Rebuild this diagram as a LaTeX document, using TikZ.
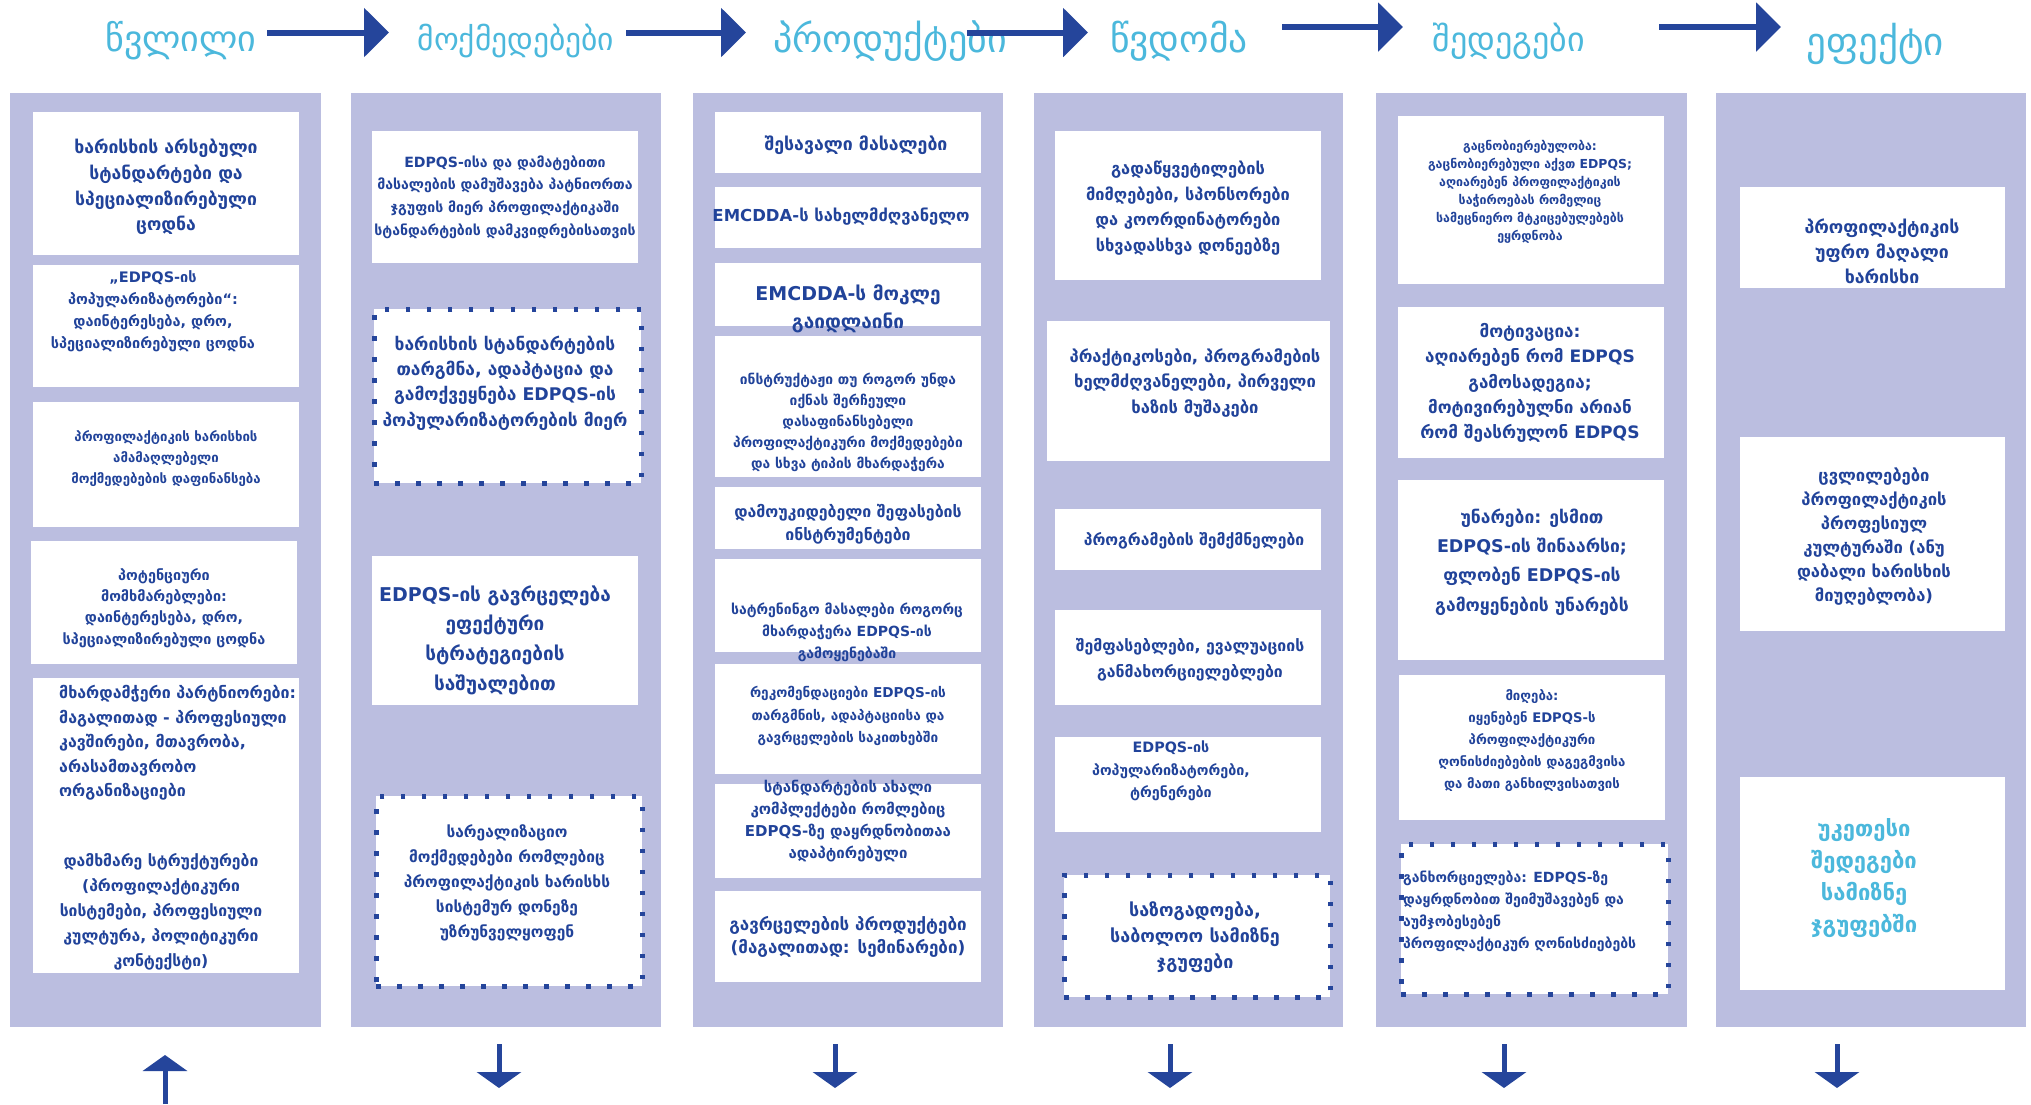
\documentclass[tikz,border=0pt]{standalone}
\usepackage{fontspec}
\setmainfont{DejaVu Sans}
\usetikzlibrary{arrows.meta}
\definecolor{colbg}{HTML}{BBBEE0}
\definecolor{txtblue}{HTML}{21439A}
\definecolor{hdrblue}{HTML}{4BB8DC}
\definecolor{arrblue}{HTML}{25459B}
\newcommand\fsz[2]{\fontsize{#1}{#2}\selectfont\bfseries}
\newcommand\hsz[1]{\fontsize{#1}{#1}\selectfont}
\tikzset{
  colbar/.style={fill=colbg, draw=none, inner sep=0pt, anchor=north west},
  wbox/.style={fill=white, draw=none, inner sep=0pt, anchor=north west},
  dotbox/.style={wbox, draw=arrblue, line width=4.5pt, dash pattern=on 4.5pt off 16.5pt},
  tx/.style={text=txtblue, align=center, inner sep=0pt},
  txl/.style={text=txtblue, align=left, inner sep=0pt, anchor=west},
  hdr/.style={text=hdrblue, inner sep=0pt, font=\hsz{#1}},
  harrow/.style={draw=arrblue, line width=6pt, -{Triangle[length=25pt,width=48pt]}},
  varrow/.style={draw=arrblue, line width=5pt, -{Triangle[length=16pt,width=44pt]}},
}
\newcommand\colbox[5]{\node[colbar, minimum width={#4-#2}, minimum height={#5-#3}] (#1) at (#2,#3) {};}
\newcommand\wb[6][wbox]{\node[#1, minimum width={#5-#3}, minimum height={#6-#4}] (#2) at (#3,#4) {};}
\begin{document}
\begin{tikzpicture}[x=1pt,y=-1pt]
\useasboundingbox (0,0) rectangle (2031,1104);
\fill[white] (0,0) rectangle (2031,1104);
% columns
\colbox{col1}{10}{93}{321}{1027}
\colbox{col2}{351}{93}{661}{1027}
\colbox{col3}{693}{93}{1003}{1027}
\colbox{col4}{1034}{93}{1343}{1027}
\colbox{col5}{1376}{93}{1687}{1027}
\colbox{col6}{1716}{93}{2026}{1027}
% headers
\node[hdr=36] (h1) at (181,41) {წვლილი};
\node[hdr=31.5] (h2) at (516,41) {მოქმედებები};
\node[hdr=38] (h3) at (890,41) {პროდუქტები};
\node[hdr=37.5] (h4) at (1179,41) {წვდომა};
\node[hdr=34] (h5) at (1509,41) {შედეგები};
\node[hdr=39] (h6) at (1875,44) {ეფექტი};
\coordinate (a1s) at (267,32.5); \coordinate (a1e) at (389,32.5);
\coordinate (a2s) at (626,32.5); \coordinate (a2e) at (746,32.5);
\coordinate (a3s) at (967,32.5); \coordinate (a3e) at (1088,32.5);
\coordinate (a4s) at (1282,27); \coordinate (a4e) at (1403,27);
\coordinate (a5s) at (1659,27); \coordinate (a5e) at (1781,27);
\draw[harrow] (a1s) -- (a1e);
\draw[harrow] (a2s) -- (a2e);
\draw[harrow] (a3s) -- (a3e);
\draw[harrow] (a4s) -- (a4e);
\draw[harrow] (a5s) -- (a5e);
% column 1
\wb{b11}{33}{112}{299}{255}
\wb{b12}{33}{265}{299}{387}
\wb{b13}{33}{402}{299}{527}
\wb{b14}{31}{541}{297}{664}
\wb{b15}{33}{678}{299}{973}
\node[tx, font=\fsz{17.6}{25.6}] (t11) at (166,187) {ხარისხის არსებული\\სტანდარტები და\\სპეციალიზირებული\\ცოდნა};
\node[tx, font=\fsz{14.5}{22}] (t12) at (153,311) {„EDPQS-ის\\პოპულარიზატორები“:\\დაინტერესება, დრო,\\სპეციალიზირებული ცოდნა};
\node[tx, font=\fsz{13.2}{21}] (t13) at (166,459) {პროფილაქტიკის ხარისხის\\ამამაღლებელი\\მოქმედებების დაფინანსება};
\node[tx, font=\fsz{14.4}{21.3}] (t14) at (164,608) {პოტენციური\\მომხმარებლები:\\დაინტერესება, დრო,\\სპეციალიზირებული ცოდნა};
\node[txl, font=\fsz{16}{24.5}] (t15a) at (59,743) {მხარდამჭერი პარტნიორები:\\მაგალითად - პროფესიული\\კავშირები, მთავრობა,\\არასამთავრობო\\ორგანიზაციები};
\node[tx, font=\fsz{15.7}{25}] (t15b) at (161,912) {დამხმარე სტრუქტურები\\(პროფილაქტიკური\\სისტემები, პროფესიული\\კულტურა, პოლიტიკური\\კონტექსტი)};
% column 2
\wb{b21}{372}{131}{638}{263}
\wb[dotbox]{b22}{372}{307}{639}{481}
\wb{b23}{372}{556}{638}{705}
\wb[dotbox]{b24}{374}{794}{640}{984}
\node[tx, font=\fsz{14.1}{22.6}] (t21) at (505,197) {EDPQS-ისა და დამატებითი\\მასალების დამუშავება პატნიორთა\\ჯგუფის მიერ პროფილაქტიკაში\\სტანდარტების დამკვიდრებისათვის};
\node[tx, font=\fsz{17.4}{25.3}] (t22) at (505,383) {ხარისხის სტანდარტების\\თარგმნა, ადაპტაცია და\\გამოქვეყნება EDPQS-ის\\პოპულარიზატორების მიერ};
\node[tx, font=\fsz{19}{29.7}] (t23) at (495,640) {EDPQS-ის გავრცელება\\ეფექტური\\სტრატეგიების\\საშუალებით};
\node[tx, font=\fsz{15.5}{25}] (t24) at (507,883) {სარეალიზაციო\\მოქმედებები რომლებიც\\პროფილაქტიკის ხარისხს\\სისტემურ დონეზე\\უზრუნველყოფენ};
% column 3
\wb{b31}{715}{112}{981}{173}
\wb{b32}{715}{187}{981}{248}
\wb{b33}{715}{263}{981}{326}
\wb{b34}{715}{336}{981}{477}
\wb{b35}{715}{487}{981}{549}
\wb{b36}{715}{559}{981}{652}
\wb{b37}{715}{664}{981}{774}
\wb{b38}{715}{784}{981}{878}
\wb{b39}{715}{891}{981}{982}
\node[tx, font=\fsz{17.7}{22}] (t31) at (856,145) {შესავალი მასალები};
\node[tx, font=\fsz{16.5}{22}] (t32) at (841,217) {EMCDDA-ს სახელმძღვანელო};
\node[tx, font=\fsz{19}{28}] (t33) at (848,309) {EMCDDA-ს მოკლე\\გაიდლაინი};
\node[tx, font=\fsz{13.8}{21}] (t34) at (848,422) {ინსტრუქტაჟი თუ როგორ უნდა\\იქნას შერჩეული\\დასაფინანსებელი\\პროფილაქტიკური მოქმედებები\\და სხვა ტიპის მხარდაჭერა};
\node[tx, font=\fsz{15.9}{23}] (t35) at (848,524) {დამოუკიდებელი შეფასების\\ინსტრუმენტები};
\node[tx, font=\fsz{14}{22}] (t36) at (847,632) {სატრენინგო მასალები როგორც\\მხარდაჭერა EDPQS-ის\\გამოყენებაში};
\node[tx, font=\fsz{13.6}{22.5}] (t37) at (848,716) {რეკომენდაციები EDPQS-ის\\თარგმნის, ადაპტაციისა და\\გავრცელების საკითხებში};
\node[tx, font=\fsz{15}{22}] (t38) at (848,821) {სტანდარტების ახალი\\კომპლექტები რომლებიც\\EDPQS-ზე დაყრდნობითაა\\ადაპტირებული};
\node[tx, font=\fsz{17}{23}] (t39) at (848,937) {გავრცელების პროდუქტები\\(მაგალითად: სემინარები)};
% column 4
\wb{b41}{1055}{131}{1321}{280}
\wb{b42}{1047}{321}{1330}{461}
\wb{b43}{1055}{509}{1321}{570}
\wb{b44}{1055}{610}{1321}{705}
\wb{b45}{1055}{737}{1321}{832}
\wb[dotbox]{b46}{1062}{873}{1328}{995}
\node[tx, font=\fsz{16.4}{25.5}] (t41) at (1188,208) {გადაწყვეტილების\\მიმღებები, სპონსორები\\და კოორდინატორები\\სხვადასხვა დონეებზე};
\node[tx, font=\fsz{16.6}{25.5}] (t42) at (1195,383) {პრაქტიკოსები, პროგრამების\\ხელმძღვანელები, პირველი\\ხაზის მუშაკები};
\node[tx, font=\fsz{15.7}{22}] (t43) at (1194,541) {პროგრამების შემქმნელები};
\node[tx, font=\fsz{15.8}{26}] (t44) at (1190,660) {შემფასებლები, ევალუაციის\\განმახორციელებლები};
\node[tx, font=\fsz{14.3}{22.5}] (t45) at (1171,771) {EDPQS-ის\\პოპულარიზატორები,\\ტრენერები};
\node[tx, font=\fsz{17.9}{26}] (t46) at (1195,937) {საზოგადოება,\\საბოლოო სამიზნე\\ჯგუფები};
% column 5
\wb{b51}{1398}{116}{1664}{284}
\wb{b52}{1398}{307}{1664}{458}
\wb{b53}{1398}{480}{1664}{660}
\wb{b54}{1399}{675}{1665}{820}
\wb[dotbox]{b55}{1399}{842}{1666}{992}
\node[tx, font=\fsz{12.4}{18}] (t51) at (1530,192) {გაცნობიერებულობა:\\გაცნობიერებული აქვთ EDPQS;\\აღიარებენ პროფილაქტიკის\\საჭიროებას რომელიც\\სამეცნიერო მტკიცებულებებს\\ეყრდნობა};
\node[tx, font=\fsz{17.1}{25.3}] (t52) at (1530,383) {მოტივაცია:\\აღიარებენ რომ EDPQS\\გამოსადეგია;\\მოტივირებულნი არიან\\რომ შეასრულონ EDPQS};
\node[tx, font=\fsz{17.5}{29.3}] (t53) at (1532,562) {უნარები: ესმით\\EDPQS-ის შინაარსი;\\ფლობენ EDPQS-ის\\გამოყენების უნარებს};
\node[tx, font=\fsz{13.2}{22}] (t54) at (1532,741) {მიღება:\\იყენებენ EDPQS-ს\\პროფილაქტიკური\\ღონისძიებების დაგეგმვისა\\და მათი განხილვისათვის};
\node[txl, font=\fsz{14}{22}] (t55) at (1403,911) {განხორციელება: EDPQS-ზე\\დაყრდნობით შეიმუშავებენ და\\აუმჯობესებენ\\პროფილაქტიკურ ღონისძიებებს};
% column 6
\wb{b61}{1740}{187}{2005}{288}
\wb{b62}{1740}{437}{2005}{631}
\wb{b63}{1740}{777}{2005}{990}
\node[tx, font=\fsz{17.7}{25}] (t61) at (1882,251) {პროფილაქტიკის\\უფრო მაღალი\\ხარისხი};
\node[tx, font=\fsz{16.6}{24}] (t62) at (1874,537) {ცვლილებები\\პროფილაქტიკის\\პროფესიულ\\კულტურაში (ანუ\\დაბალი ხარისხის\\მიუღებლობა)};
\node[tx, text=hdrblue, font=\fsz{22}{32}] (t63) at (1864,878) {უკეთესი\\შედეგები\\სამიზნე\\ჯგუფებში};
% bottom arrows
\coordinate (u1s) at (165,1104); \coordinate (u1e) at (165,1055);
\draw[varrow] (u1s) -- (u1e);
\foreach \i/\xx in {2/499,3/835,4/1170,5/1504,6/1837}{
  \coordinate (d\i s) at (\xx,1044); \coordinate (d\i e) at (\xx,1088);
  \draw[varrow] (d\i s) -- (d\i e);
}
\end{tikzpicture}
\end{document}
